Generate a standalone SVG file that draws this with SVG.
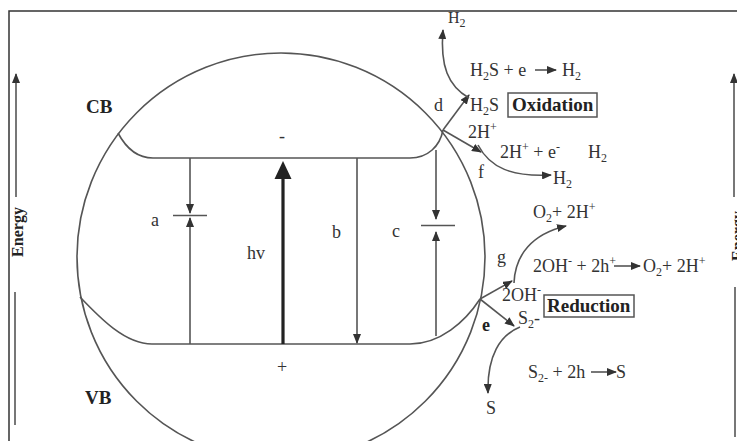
<svg xmlns="http://www.w3.org/2000/svg" width="737" height="441" viewBox="0 0 737 441">
<style>
.ln{fill:none;stroke:#555;stroke-width:1.6}
.t{font-family:"Liberation Serif","Times New Roman",serif;font-size:18px;fill:#333}
.b{font-family:"Liberation Serif","Times New Roman",serif;font-weight:bold;fill:#222;font-size:19px}
.s{font-size:12px}
.box{fill:none;stroke:#555;stroke-width:1.5}
</style>
<defs>
<marker id="ah" viewBox="0 0 10 8" refX="9" refY="4" markerWidth="10" markerHeight="8" markerUnits="userSpaceOnUse" orient="auto"><path d="M0,0 L10,4 L0,8 Z" fill="#333"/></marker>
</defs>
<rect width="737" height="441" fill="#fff"/>
<g id="frame"><path d="M9,441 V11 H737" fill="none" stroke="#333" stroke-width="1.5"/></g>
<g id="energy-left">
<line x1="16" y1="197" x2="16" y2="74" stroke="#777" stroke-width="2" marker-end="url(#ah)"/>
<line x1="15" y1="292" x2="15" y2="425" stroke="#777" stroke-width="2"/>
<text class="b" text-anchor="middle" transform="translate(23,232) rotate(-90)" style="font-size:16px">Energy</text>
</g>
<g id="energy-right">
<line x1="734" y1="197" x2="734" y2="74" stroke="#777" stroke-width="2" marker-end="url(#ah)"/>
<line x1="735" y1="287" x2="735" y2="437" stroke="#777" stroke-width="2"/>
<text class="b" text-anchor="middle" transform="translate(743,236) rotate(-90)" style="font-size:16px">Energy</text>
</g>
<g id="particle"><circle cx="281" cy="257" r="204" class="ln"/></g>
<g id="cb-band">
<path class="ln" d="M118,133 C126,148 138,158 153,158 H410 C428,158 440,146 443,130"/>
<text class="b" x="86" y="113">CB</text>
<text class="t" x="282" y="142" text-anchor="middle">-</text>
</g>
<g id="vb-band">
<path class="ln" d="M80,297 C100,318 125,344 152,344 H410 C440,344 465,322 480,299"/>
<text class="b" x="85" y="404">VB</text>
<text class="t" x="282" y="373" text-anchor="middle">+</text>
</g>
<g id="transitions">
<line class="ln" x1="190" y1="158" x2="190" y2="213" marker-end="url(#ah)"/>
<line class="ln" x1="173" y1="215.5" x2="207" y2="215.5"/>
<line class="ln" x1="190" y1="344" x2="190" y2="218" marker-end="url(#ah)"/>
<text class="t" x="151" y="226">a</text>
<line x1="283" y1="344" x2="283" y2="176" stroke="#222" stroke-width="3.2"/>
<polygon points="283,161 274.5,179 291.5,179" fill="#222"/>
<text class="t" x="247" y="259">hv</text>
<line class="ln" x1="357" y1="158" x2="357" y2="343" marker-end="url(#ah)"/>
<text class="t" x="332" y="238">b</text>
<line class="ln" x1="436" y1="150" x2="436" y2="219" marker-end="url(#ah)"/>
<line class="ln" x1="421" y1="225.5" x2="455" y2="225.5"/>
<line class="ln" x1="436" y1="336" x2="436" y2="232" marker-end="url(#ah)"/>
<text class="t" x="392" y="237">c</text>
</g>
<g id="connectors">
<line class="ln" x1="443" y1="130" x2="469" y2="95" marker-end="url(#ah)"/>
<line class="ln" x1="443" y1="130" x2="481" y2="152" marker-end="url(#ah)"/>
<line class="ln" x1="480" y1="299" x2="512" y2="281" marker-end="url(#ah)"/>
<line class="ln" x1="480" y1="299" x2="514" y2="326" marker-end="url(#ah)"/>
<path class="ln" d="M469,98 C448,86 440,66 443,30" marker-end="url(#ah)"/>
<path class="ln" d="M478,145 C490,168 512,177 551,175" marker-end="url(#ah)"/>
<path class="ln" d="M514,283 C515,255 532,234 566,226" marker-end="url(#ah)"/>
<path class="ln" d="M520,327 C500,335 487,356 488,393" marker-end="url(#ah)"/>
<line class="ln" x1="535" y1="70" x2="556" y2="70" marker-end="url(#ah)"/>
<line class="ln" x1="614" y1="266" x2="640" y2="266" marker-end="url(#ah)"/>
<line class="ln" x1="591" y1="372" x2="616" y2="372" marker-end="url(#ah)"/>
</g>
<g id="oxidation">
<text class="t" x="448" y="23" style="font-size:16px">H<tspan class="s" dy="4">2</tspan></text>
<text class="t" x="470" y="76">H<tspan class="s" dy="4">2</tspan><tspan dy="-4">S + e</tspan></text>
<text class="t" x="562" y="76">H<tspan class="s" dy="4">2</tspan></text>
<text class="t" x="434" y="111">d</text>
<text class="t" x="470" y="111">H<tspan class="s" dy="4">2</tspan><tspan dy="-4">S</tspan></text>
<rect class="box" x="508" y="93" width="89" height="24"/>
<text class="b" x="512" y="111">Oxidation</text>
<text class="t" x="468" y="138">2H<tspan class="s" dy="-7">+</tspan></text>
<text class="t" x="500" y="158">2H<tspan class="s" dy="-7">+</tspan><tspan dy="7"> + e</tspan><tspan class="s" dy="-7">-</tspan></text>
<text class="t" x="588" y="158">H<tspan class="s" dy="4">2</tspan></text>
<text class="t" x="478" y="178">f</text>
<text class="t" x="553" y="184">H<tspan class="s" dy="4">2</tspan></text>
</g>
<g id="reduction">
<text class="t" x="533" y="218">O<tspan class="s" dy="4">2</tspan><tspan dy="-4">+ 2H</tspan><tspan class="s" dy="-7">+</tspan></text>
<text class="t" x="497" y="263">g</text>
<text class="t" x="533" y="272">2OH<tspan class="s" dy="-7">-</tspan><tspan dy="7"> + 2h</tspan><tspan class="s" dy="-7">+</tspan></text>
<text class="t" x="643" y="272">O<tspan class="s" dy="4">2</tspan><tspan dy="-4">+ 2H</tspan><tspan class="s" dy="-7">+</tspan></text>
<text class="t" x="502" y="301">2OH<tspan class="s" dy="-7">-</tspan></text>
<rect class="box" x="544" y="295" width="90" height="22"/>
<text class="b" x="547" y="312">Reduction</text>
<text class="b" x="482" y="331" style="font-size:18px">e</text>
<text class="t" x="518" y="324">S<tspan class="s" dy="4">2</tspan><tspan dy="-4">-</tspan></text>
<text class="t" x="528" y="378">S<tspan class="s" dy="4">2-</tspan><tspan dy="-4"> + 2h</tspan></text>
<text class="t" x="616" y="378">S</text>
<text class="t" x="486" y="414">S</text>
</g>
</svg>
